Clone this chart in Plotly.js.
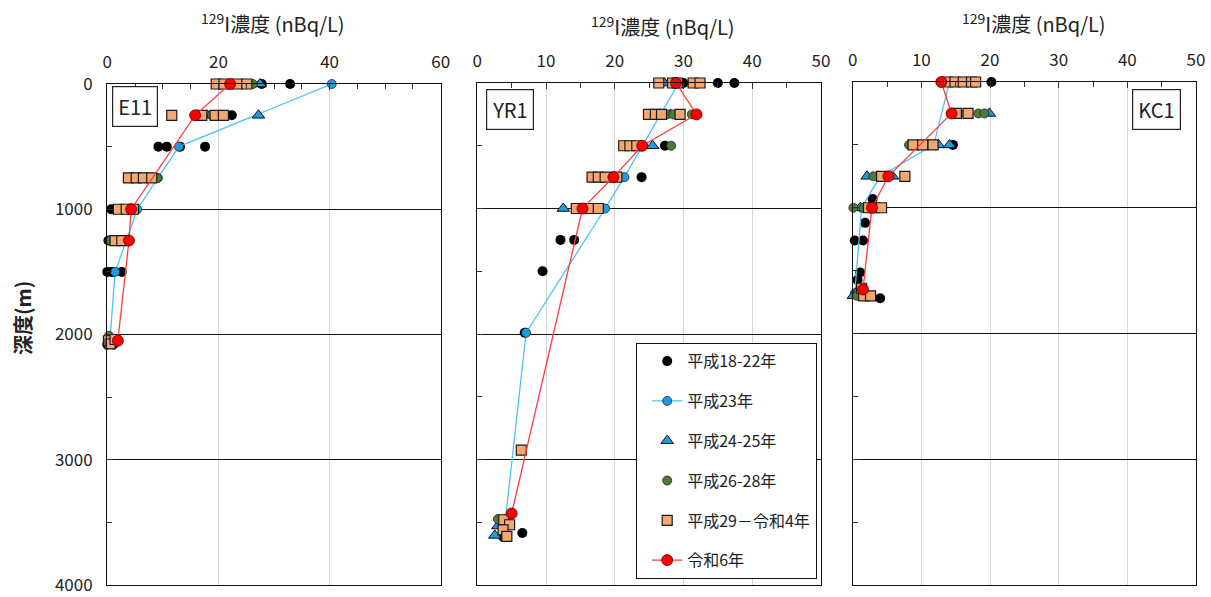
<!DOCTYPE html>
<html>
<head>
<meta charset="utf-8">
<script src="https://cdn.plot.ly/plotly-3.0.1.min.js"></script>
<style>
html,body{margin:0;padding:0;background:#fff;}
#chart{width:1211px;height:597px;}
</style>
</head>
<body>
<div id="chart"></div>
<script>
// ---------- Data (129I concentration nBq/L vs depth m) ----------
const seriesNames = ["平成18-22年", "平成23年", "平成24-25年", "平成26-28年", "平成29－令和4年", "令和6年"];
const panelNames = ["E11", "YR1", "KC1"];
const xTitle = "<sup>129</sup>I濃度 (nBq/L)";
const yTitle = "深度(m)";

// E11
const e11_h18_22_x = [27.8, 32.9, 22.4, 9.2, 10.7, 13.1, 17.6, 0.7, 0.2, 2.0, 0.0, 0.8, 2.6, 0.0, 1.1];
const e11_h18_22_y = [0, 0, 250, 500, 500, 500, 500, 1000, 1250, 1250, 1500, 1500, 1500, 2080, 2080];
const e11_h23_x = [40.4, 12.9, 9.1, 5.4, 1.4, 0.5];
const e11_h23_y = [0, 500, 750, 1000, 1500, 2030];
const e11_h24_25_x = [27.5, 18.0, 27.2];
const e11_h24_25_y = [0, 250, 250];
const e11_h26_28_x = [26.2, 18.8, 9.0, 0.5, 0.3];
const e11_h26_28_y = [0, 250, 750, 1250, 2010];
const e11_h29_r4_x = [19.6, 21.0, 23.4, 25.1, 11.6, 17.0, 19.4, 20.9, 3.8, 5.2, 6.5, 8.0, 2.0, 3.4, 4.7, 1.4, 2.6, 0.2, 0.5, 1.4];
const e11_h29_r4_y = [0, 0, 0, 0, 250, 250, 250, 250, 750, 750, 750, 750, 1000, 1000, 1000, 1250, 1250, 2050, 2075, 2040];
const e11_r6_x = [22.1, 15.8, 4.3, 3.9, 1.9];
const e11_r6_y = [0, 250, 1000, 1250, 2050];

// YR1
const yr1_h18_22_x = [30.0, 35.0, 37.4, 27.3, 23.9, 16.4, 12.1, 14.1, 9.5, 6.9, 3.75, 6.55];
const yr1_h18_22_y = [0, 0, 0, 500, 750, 1000, 1250, 1250, 1500, 1990, 3616, 3585];
const yr1_h23_x = [29.3, 21.4, 18.6, 7.1, 4.1];
const yr1_h23_y = [0, 750, 1000, 1990, 3475];
const yr1_h24_25_x = [27.2, 28.1, 25.5, 12.5, 2.55, 3.0];
const yr1_h24_25_y = [0, 250, 500, 1000, 3605, 3530];
const yr1_h26_28_x = [27.6, 28.5, 31.2, 28.2, 19.1, 3.0];
const yr1_h26_28_y = [250, 250, 250, 500, 750, 3475];
const yr1_h29_r4_x = [26.4, 28.4, 29.1, 31.4, 32.4, 24.9, 25.9, 26.8, 29.5, 21.3, 22.2, 23.2, 16.7, 17.6, 18.6, 20.3, 14.4, 16.2, 17.6, 6.4, 3.85, 4.7, 3.75, 4.3];
const yr1_h29_r4_y = [0, 0, 0, 0, 0, 250, 250, 250, 250, 500, 500, 500, 750, 750, 750, 750, 1000, 1000, 1000, 2925, 3480, 3520, 3560, 3612];
const yr1_r6_x = [28.9, 31.9, 24.0, 19.8, 15.3, 5.0];
const yr1_r6_y = [0, 250, 500, 750, 1000, 3430];

// KC1
const kc1_h18_22_x = [20.2, 14.7, 9.3, 14.6, 4.7, 2.9, 1.8, 1.8, 0.3, 1.5, 1.1, 0.7, 4.0];
const kc1_h18_22_y = [0, 250, 500, 500, 750, 930, 1000, 1120, 1260, 1260, 1515, 1575, 1720];
const kc1_h23_x = [14.1, 11.8, 4.0, 1.3, 0.3];
const kc1_h23_y = [0, 500, 750, 1000, 1680];
const kc1_h24_25_x = [16.3, 19.9, 12.5, 14.1, 2.1, 5.8, 1.1, 0.1, 0.9];
const kc1_h24_25_y = [250, 250, 500, 500, 750, 750, 1000, 1700, 1650];
const kc1_h26_28_x = [18.3, 19.2, 8.2, 10.0, 3.0, 0.1, 1.6, 0.6];
const kc1_h26_28_y = [250, 250, 500, 500, 750, 1000, 1000, 1700];
const kc1_h29_r4_x = [13.8, 14.9, 16.1, 17.3, 17.9, 15.1, 16.8, 8.8, 10.2, 11.7, 4.2, 7.6, 2.3, 3.2, 4.2, 1.3, 1.6, 2.6];
const kc1_h29_r4_y = [0, 0, 0, 0, 0, 250, 250, 500, 500, 500, 750, 750, 1000, 1000, 1000, 1640, 1700, 1700];
const kc1_r6_x = [12.9, 14.4, 5.2, 2.8, 1.5];
const kc1_r6_y = [0, 250, 750, 1000, 1650];

const xRanges = [[0, 60], [0, 50], [0, 50]];
const xDticks = [20, 10, 10];
const yTicks = [0, 1000, 2000, 3000, 4000];

// ---------- Styles ----------
const FONT = "'Noto Sans CJK JP', 'Noto Sans', sans-serif";
const styles = [
  {mode: "markers", marker: {symbol: "circle", size: 10, color: "#000000"}},
  {mode: "lines+markers", line: {color: "#4cc4f2", width: 1.3}, marker: {symbol: "circle", size: 9, color: "#1a9de0", line: {color: "#1b2b3a", width: 0.8}}},
  {mode: "markers", marker: {symbol: "triangle-up", size: 11, color: "#1e9be0", line: {color: "#111", width: 1}}},
  {mode: "markers", marker: {symbol: "circle", size: 9, color: "#4f7a35", line: {color: "#223", width: 0.8}}},
  {mode: "markers", marker: {symbol: "square", size: 10, color: "#f6a771", line: {color: "#1a1a1a", width: 1.2}}},
  {mode: "lines+markers", line: {color: "#ff3b3b", width: 1.3}, marker: {symbol: "circle", size: 11, color: "#ff0000", line: {color: "#5a0000", width: 0.8}}}
];

const panelData = [
  [[e11_h18_22_x, e11_h18_22_y], [e11_h23_x, e11_h23_y], [e11_h24_25_x, e11_h24_25_y], [e11_h26_28_x, e11_h26_28_y], [e11_h29_r4_x, e11_h29_r4_y], [e11_r6_x, e11_r6_y]],
  [[yr1_h18_22_x, yr1_h18_22_y], [yr1_h23_x, yr1_h23_y], [yr1_h24_25_x, yr1_h24_25_y], [yr1_h26_28_x, yr1_h26_28_y], [yr1_h29_r4_x, yr1_h29_r4_y], [yr1_r6_x, yr1_r6_y]],
  [[kc1_h18_22_x, kc1_h18_22_y], [kc1_h23_x, kc1_h23_y], [kc1_h24_25_x, kc1_h24_25_y], [kc1_h26_28_x, kc1_h26_28_y], [kc1_h29_r4_x, kc1_h29_r4_y], [kc1_r6_x, kc1_r6_y]]
];

// ---------- Layout geometry (pixels) ----------
const W = 1211, H = 597;
const panelPx = [
  {l: 107.3, r: 440.7, t: 84, b: 585},
  {l: 477.3, r: 821, t: 83, b: 585},
  {l: 852.7, r: 1196, t: 82, b: 585}
];
const titleCenters = [[273, 23], [663, 26], [1034, 23]];
const boxPos = [[135, 107], [510, 110], [1156, 110]];

const traces = [];
panelData.forEach((series, p) => {
  const ax = p === 0 ? "" : String(p + 1);
  series.forEach((xy, s) => {
    const st = styles[s];
    traces.push(Object.assign({
      type: "scatter",
      x: xy[0], y: xy[1],
      xaxis: "x" + ax, yaxis: "y" + ax,
      name: seriesNames[s],
      legendgroup: "g" + s,
      showlegend: p === 0,
      cliponaxis: false,
      hoverinfo: "x+y+name"
    }, JSON.parse(JSON.stringify(st))));
  });
});

const layout = {
  width: W, height: H,
  margin: {l: 0, r: 0, t: 0, b: 0},
  paper_bgcolor: "#fff", plot_bgcolor: "#fff",
  font: {family: FONT, color: "#222", size: 16},
  showlegend: true,
  legend: {
    x: 636 / W, y: 1 - 343 / H, xanchor: "left", yanchor: "top",
    bordercolor: "#111", borderwidth: 1.2, bgcolor: "#fff",
    font: {family: FONT, size: 16, color: "#222"},
    tracegroupgap: 16, traceorder: "grouped",
    indentation: 10
  },
  annotations: [],
  shapes: []
};

panelPx.forEach((pp, p) => {
  const ax = p === 0 ? "" : String(p + 1);
  layout["xaxis" + ax] = {
    domain: [pp.l / W, pp.r / W],
    range: xRanges[p], side: "top", anchor: "y" + ax,
    dtick: xDticks[p], tick0: 0,
    ticks: "inside", ticklen: 6, tickcolor: "#333",
    minor: {dtick: 5, ticks: "inside", ticklen: 5, tickcolor: "#333", showgrid: false},
    showgrid: true, gridcolor: "#d6d6d6", gridwidth: 1,
    showline: true, linecolor: "#111", linewidth: 1.2, mirror: true,
    zeroline: false,
    tickfont: {family: FONT, size: 17, color: "#222"},
    ticklabelstandoff: 8,
    ticklabeloverflow: "allow",
    fixedrange: true
  };
  layout["yaxis" + ax] = {
    domain: [1 - pp.b / H, 1 - pp.t / H],
    range: [4000, 0], anchor: "x" + ax,
    tickvals: yTicks,
    ticks: "inside", ticklen: 6, tickcolor: "#333",
    minor: {dtick: 500, ticks: "inside", ticklen: 5, tickcolor: "#333", showgrid: false},
    showgrid: true, gridcolor: "#111", gridwidth: 1,
    showline: true, linecolor: "#111", linewidth: 1.2, mirror: true,
    zeroline: false,
    showticklabels: p === 0,
    tickfont: {family: FONT, size: 17, color: "#222"},
    ticklabelstandoff: 10,
    ticklabeloverflow: "allow",
    fixedrange: true
  };
  layout.annotations.push({
    xref: "paper", yref: "paper",
    x: titleCenters[p][0] / W, y: 1 - titleCenters[p][1] / H,
    xanchor: "center", yanchor: "middle",
    text: xTitle, showarrow: false,
    font: {family: FONT, size: 20, color: "#222"}
  });
  layout.annotations.push({
    xref: "paper", yref: "paper",
    x: boxPos[p][0] / W, y: 1 - boxPos[p][1] / H,
    xanchor: "center", yanchor: "middle",
    text: panelNames[p], showarrow: false,
    bgcolor: "#fff", bordercolor: "#222", borderwidth: 1.2, borderpad: 5,
    font: {family: FONT, size: 20, color: "#222"}
  });
});

layout.annotations.push({
  xref: "paper", yref: "paper",
  x: 22 / W, y: 1 - 318 / H,
  xanchor: "center", yanchor: "middle",
  text: "<b>" + yTitle + "</b>", textangle: -90, showarrow: false,
  font: {family: FONT, size: 20, color: "#222"}
});

Plotly.newPlot("chart", traces, layout, {displayModeBar: false, staticPlot: true});
</script>
</body>
</html>
